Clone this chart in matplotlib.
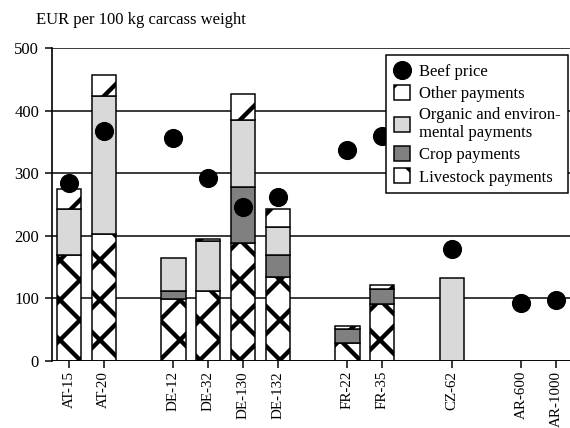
import matplotlib

matplotlib.use("Agg")
import matplotlib.pyplot as plt
import numpy as np

# Farm labels and their slot on the x axis (gaps between countries).
farms = ["AT-15", "AT-20", "DE-12", "DE-32", "DE-130", "DE-132",
         "FR-22", "FR-35", "CZ-62", "AR-600", "AR-1000"]
slots = [0, 1, 3, 4, 5, 6, 8, 9, 11, 13, 14]

# EUR per 100 kg carcass weight.
livestock = [169, 203, 99, 112, 188, 134, 29, 91, 0, 0, 0]
crop = [0, 0, 13, 0, 90, 35, 22, 24, 0, 0, 0]
organic = [74, 220, 53, 80, 107, 45, 0, 0, 133, 0, 0]
other = [32, 34, 0, 3, 42, 29, 5, 6, 0, 0, 0]
beef_price = [284, 368, 356, 293, 246, 262, 337, 360, 179, 93, 97]

plt.rcParams["font.family"] = ["Liberation Serif", "DejaVu Serif"]
plt.rcParams["hatch.linewidth"] = 2.6

fig = plt.figure(figsize=(4.75, 428 / 120), dpi=120)
ax = fig.add_axes([51.6 / 570, 67 / 428, 1 - 51.6 / 570, 313 / 428])

x = np.array(slots, dtype=float)
w = 0.7
bottom = np.zeros(len(x))
layers = [
    (livestock, "white", "x", "Livestock payments"),
    (crop, "#808080", None, "Crop payments"),
    (organic, "#d9d9d9", None, "Organic and environ-\nmental payments"),
    (other, "white", "/", "Other payments"),
]
handles = {}
for vals, color, hatch, label in layers:
    vals = np.array(vals, dtype=float)
    mask = vals > 0
    bars = ax.bar(x[mask], vals[mask], w, bottom=bottom[mask], color=color,
                  edgecolor="black", linewidth=0.9, hatch=hatch, zorder=3,
                  label=label)
    handles[label] = bars
    bottom += vals

price = ax.scatter(x, beef_price, s=110, color="black", zorder=5,
                   label="Beef price")

ax.set_xlim(-0.5, 14.4)
ax.set_ylim(0, 500)
ax.set_yticks(range(0, 501, 100))
ax.yaxis.grid(True, color="black", linewidth=0.9, zorder=0)
ax.set_axisbelow(True)
for side in ["top", "right", "bottom"]:
    ax.spines[side].set_visible(False)
ax.axhline(0, color="black", linewidth=1.0, zorder=6)
ax.spines["left"].set_linewidth(1.0)
ax.set_xticks(x)
ax.set_xticklabels(farms, rotation=90, fontsize=9)
ax.tick_params(axis="y", labelsize=10, length=4, width=0.9)
ax.tick_params(axis="x", length=4, width=0.9, pad=2)

fig.text(36 / 570, 1 - 20 / 428, "EUR per 100 kg carcass weight",
         fontsize=10, va="center", ha="left")

order = ["Other payments", "Organic and environ-\nmental payments",
         "Crop payments", "Livestock payments"]
leg = ax.legend([price] + [handles[k] for k in order], ["Beef price"] + order,
                loc="upper right", bbox_to_anchor=(568 / 570, 1 - 55 / 428),
                bbox_transform=fig.transFigure, fontsize=10, frameon=True,
                fancybox=False, edgecolor="black", framealpha=1,
                handlelength=1.0, handleheight=1.0, handletextpad=0.5,
                labelspacing=0.3, borderpad=0.45, borderaxespad=0,
                scatterpoints=1)
leg.get_frame().set_linewidth(0.9)
leg.set_zorder(10)

fig.savefig("out.png", dpi=120)
